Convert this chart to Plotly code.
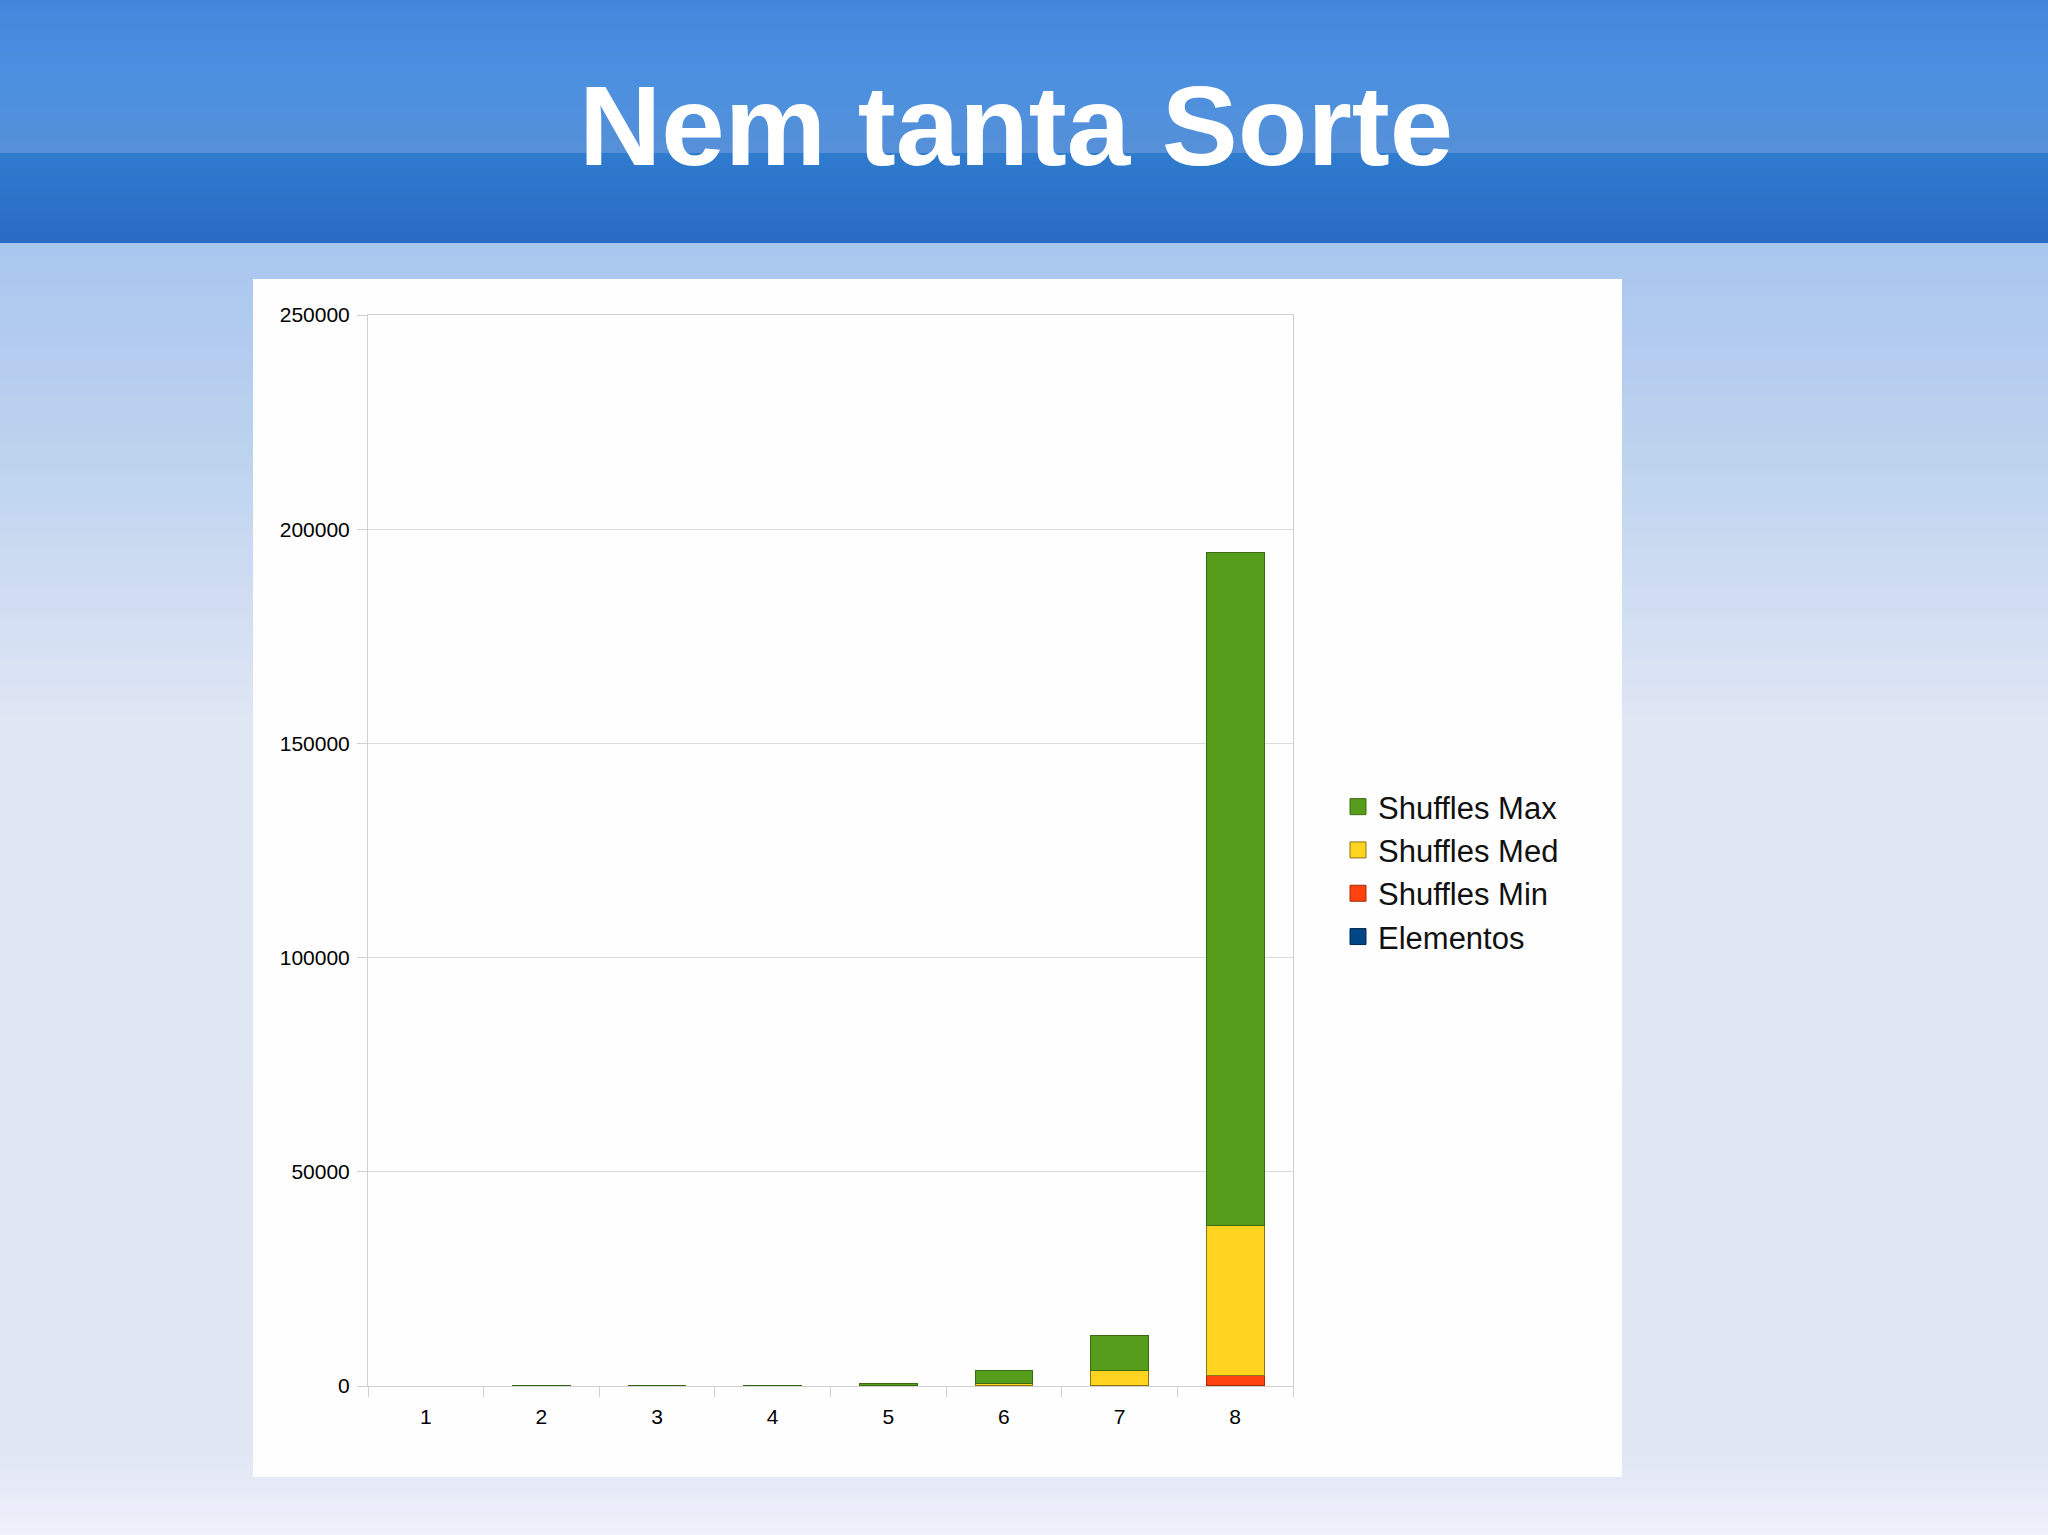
import plotly.graph_objs as go

# chart data (segment values, stacked bottom to top)
categorias = ['1', '2', '3', '4', '5', '6', '7', '8']
elementos = [1, 2, 3, 4, 5, 6, 7, 8]
shuffles_min = [0, 0, 1, 2, 6, 15, 80, 2450]
shuffles_med = [0, 1, 5, 22, 120, 650, 3500, 35100]
shuffles_max = [0, 3, 18, 90, 420, 2850, 8300, 156900]

y_ticks = [0, 50000, 100000, 150000, 200000, 250000]

series = [
    ('Elementos', elementos, '#004586', '#00284f'),
    ('Shuffles Min', shuffles_min, '#ff420e', '#a62a08'),
    ('Shuffles Med', shuffles_med, '#ffd320', '#8a7414'),
    ('Shuffles Max', shuffles_max, '#579d1c', '#3a6a12'),
]

W, H = 2048, 1535
L, R, T, B = 368, 1293, 315, 1386   # plot area in pixels


def px(x):
    return (x - L) / (R - L)


def py(y):
    return (B - y) / (B - T)


def hex2rgb(c):
    c = c.lstrip('#')
    return [int(c[i:i + 2], 16) for i in (0, 2, 4)]


def gradient(stops, step=4):
    # stops: list of (ypix, color); builds horizontal strips
    out = []
    for (y0, c0), (y1, c1) in zip(stops[:-1], stops[1:]):
        a, b = hex2rgb(c0), hex2rgb(c1)
        y = y0
        while y < y1:
            ye = min(y + step, y1)
            t = ((y + ye) / 2 - y0) / (y1 - y0)
            col = 'rgb({},{},{})'.format(*[round(a[k] + (b[k] - a[k]) * t) for k in range(3)])
            out.append(dict(type='rect', xref='paper', yref='paper', layer='below',
                            x0=px(0), x1=px(W), y0=py(ye + 0.5), y1=py(y),
                            fillcolor=col, line=dict(width=0)))
            y = ye
    return out


shapes = []
shapes += gradient([(0, '#4287dc'), (70, '#4a90e0'), (153, '#5690d8')])
shapes += gradient([(153, '#2f7bce'), (243, '#2a6bc3')])
shapes += gradient([(243, '#a8c7ee'), (330, '#b2caef'), (450, '#bcd3ee'),
                    (600, '#d0ddf2'), (720, '#dfe6f4'), (1450, '#e0e6f4'),
                    (1535, '#eff1fb')], step=6)
# white chart panel
shapes.append(dict(type='rect', xref='paper', yref='paper', layer='below',
                   x0=px(253), x1=px(1622), y0=py(1477), y1=py(279),
                   fillcolor='#fefefe', line=dict(width=0)))

traces = []
for nome, vals, cor, borda in series:
    traces.append(go.Bar(
        x=categorias, y=vals, name=nome, showlegend=False,
        marker=dict(color=cor, line=dict(color=borda, width=1)),
    ))
# legend entries (bigger square swatches than the bar legend symbol)
for nome, vals, cor, borda in reversed(series):
    traces.append(go.Scatter(
        x=[None], y=[None], name=nome, mode='markers',
        marker=dict(symbol='square', size=16, color=cor, line=dict(color=borda, width=1)),
    ))

layout = go.Layout(
    width=W, height=H,
    margin=dict(l=L, r=W - R, t=T, b=H - B, pad=0),
    paper_bgcolor='#e0e6f4',
    plot_bgcolor='#fefefe',
    barmode='stack',
    bargap=0.5,
    font=dict(family='Liberation Sans', color='#000000', size=21),
    shapes=shapes,
    xaxis=dict(
        type='category', showgrid=False, ticks='outside', tickson='boundaries',
        ticklen=10, tickcolor='#d0d0d0', showline=True, linecolor='#d0d0d0',
        mirror=True, tickfont=dict(size=21), ticklabelstandoff=12,
    ),
    yaxis=dict(
        range=[0, 250000], tickvals=y_ticks, tickformat='d', ticks='outside',
        ticklen=10, tickcolor='#d0d0d0', showgrid=True, gridcolor='#dcdcdc',
        showline=True, linecolor='#d0d0d0', mirror=True, zeroline=False,
        tickfont=dict(size=21), ticklabelstandoff=3,
    ),
    legend=dict(
        x=px(1338), y=py(780), xanchor='left', yanchor='top',
        traceorder='normal', bgcolor='rgba(0,0,0,0)',
        font=dict(size=31, color='#111111'), itemwidth=30,
    ),
    annotations=[dict(
        text='<b>Nem tanta Sorte</b>', xref='paper', yref='paper',
        x=px(1016), y=py(126), xanchor='center', yanchor='middle',
        showarrow=False, font=dict(family='Liberation Sans', size=114, color='#ffffff'),
    )],
)

fig = go.Figure(data=traces, layout=layout)
fig.write_html('out.html', config={'displayModeBar': False},
               post_script="document.body.style.margin='0';")
